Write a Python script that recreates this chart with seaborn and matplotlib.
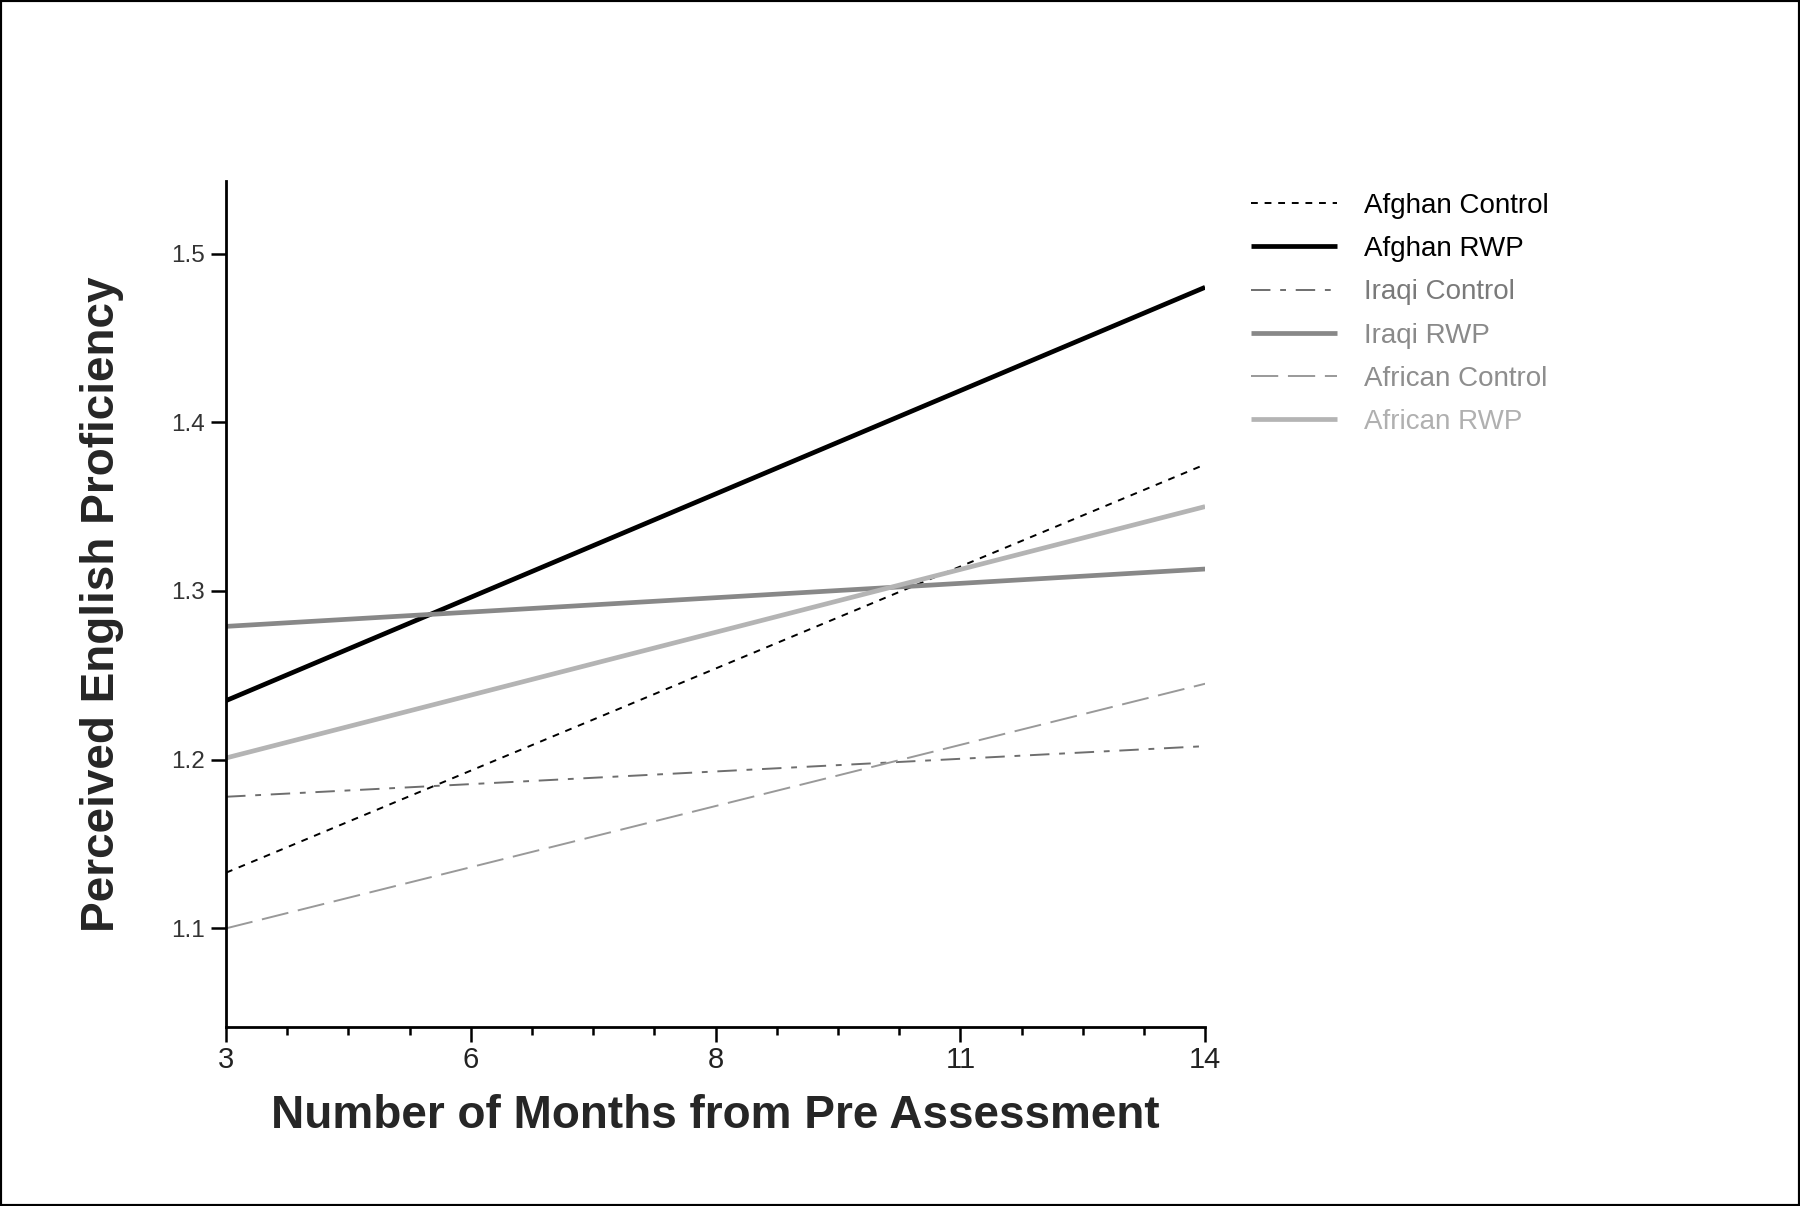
import matplotlib
matplotlib.use("Agg")
import matplotlib.pyplot as plt
import seaborn as sns
import pandas as pd
from matplotlib.ticker import FixedLocator, MultipleLocator

# ---- data ----
month_labels = ["3", "6", "8", "11", "14"]
month_positions = [0, 1, 2, 3, 4]          # equally spaced category positions on the axis
line_x = [0, 4]                              # lines run from month 3 to month 14

series_names = ["Afghan Control", "Afghan RWP", "Iraqi Control",
                "Iraqi RWP", "African Control", "African RWP"]
start_values = [1.133, 1.235, 1.178, 1.279, 1.100, 1.201]
end_values = [1.375, 1.480, 1.208, 1.313, 1.245, 1.350]

# ---- styles ----
line_colors = ["#000000", "#000000", "#6e6e6e", "#888888", "#999999", "#b4b4b4"]
text_colors = ["#000000", "#000000", "#7a7a7a", "#8a8a8a", "#8e8e8e", "#b0b0b0"]
line_widths = [1.4, 3.4, 1.4, 3.4, 1.4, 3.4]
dash_patterns = [(3.5, 3.5), None, (10, 5, 3, 5), None, (14, 5), None]

sns.set_style("white")
plt.rcParams["font.family"] = ["Liberation Sans", "DejaVu Sans"]

fig = plt.figure(figsize=(18, 12.06), dpi=100)
ax = fig.add_axes([0.1256, 0.1484, 0.5439, 0.7015])

handles = []
for name, s, e, c, lw, d in zip(series_names, start_values, end_values,
                                line_colors, line_widths, dash_patterns):
    df = pd.DataFrame({"x": line_x, "y": [s, e]})
    sns.lineplot(data=df, x="x", y="y", ax=ax, color=c, linewidth=lw,
                 legend=False, solid_capstyle="butt")
    ln = ax.lines[-1]
    if d is not None:
        ln.set_dashes(d)
    handles.append(ln)

ax.set_xlim(0, 4)
ax.set_ylim(1.0415, 1.543)
ax.xaxis.set_major_locator(FixedLocator(month_positions))
ax.set_xticklabels(month_labels)
ax.xaxis.set_minor_locator(MultipleLocator(0.25))
ax.set_yticks([1.1, 1.2, 1.3, 1.4, 1.5])
ax.set_yticklabels(["1.1", "1.2", "1.3", "1.4", "1.5"])

for side in ["top", "right"]:
    ax.spines[side].set_visible(False)
for side in ["left", "bottom"]:
    ax.spines[side].set_linewidth(2.0)
    ax.spines[side].set_color("black")

ax.tick_params(axis="both", which="major", direction="out", length=11, width=1.8,
               color="black", labelcolor="#333333", pad=4)
ax.tick_params(axis="y", which="major", labelsize=17.5, left=True)
ax.tick_params(axis="x", which="major", labelsize=21, labelcolor="#222222",
               bottom=True, pad=3)
ax.tick_params(axis="x", which="minor", direction="out", length=6, width=1.8,
               color="black", bottom=True)

ax.set_xlabel("Number of Months from Pre Assessment", fontsize=33,
              fontweight="bold", labelpad=14)
ax.set_ylabel("Perceived English Proficiency", fontsize=33,
              fontweight="bold", labelpad=34)

leg = ax.legend(handles, series_names, loc="upper left",
                bbox_to_anchor=(1251 / 1800, 1 - 193 / 1206),
                bbox_transform=fig.transFigure, frameon=False, fontsize=20,
                handlelength=3.1, handletextpad=0.95, labelspacing=0.62,
                borderpad=0, borderaxespad=0)
for t, col in zip(leg.get_texts(), text_colors):
    t.set_color(col)

fig.add_artist(plt.Rectangle((0, 0), 1, 1, transform=fig.transFigure,
                             fill=False, edgecolor="black", linewidth=3))

fig.savefig("out.png", dpi=100, facecolor="white")
